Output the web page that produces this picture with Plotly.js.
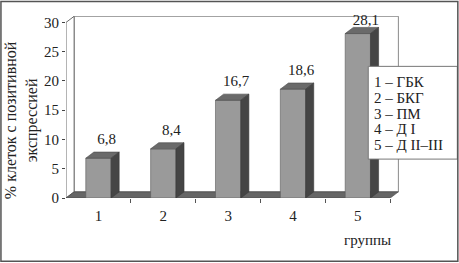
<!DOCTYPE html>
<html>
<head>
<meta charset="utf-8">
<script src="https://cdn.plot.ly/plotly-3.0.1.min.js"></script>
<style>html,body{margin:0;padding:0;background:#fff;}#chart{width:459px;height:263px;}</style>
</head>
<body>
<div id="chart"></div>
<script>
// ---- data ----
const groups = [1, 2, 3, 4, 5];
const values = [6.8, 8.4, 16.7, 18.6, 28.1];
const legendLines = ["1 – ГБК", "2 – БКГ", "3 – ПМ", "4 – Д I", "5 – Д II–III"];
const yTitle = "% клеток с позитивной<br>экспрессией";
const xTitle = "группы";
const yTicks = [0, 5, 10, 15, 20, 25, 30];

// ---- geometry (style) ----
const W = 459, H = 263;
const L = 66, T = 15.5, B = 65;
const xRange = [0.5, 5.65], yRange = [0, 31.1];
const pxPerX = 64.8;
const plotW = (xRange[1] - xRange[0]) * pxPerX;
const R = W - L - plotW;
const plotH = H - T - B;
const barW = 0.39, dx = 0.125, dy = 1.05;
const font = "Liberation Serif";
const txt = "#222";

const px2paperX = p => (p - L) / plotW;
const py2paperY = p => (H - B - p) / plotH;

const traces = [];
// front faces
traces.push({
  type: "bar", x: groups, y: values, width: barW,
  marker: {color: "#9a9a9a", line: {color: "#5a5a5a", width: 0.6}},
  hoverinfo: "skip", showlegend: false
});
// top and side faces
groups.forEach((c, i) => {
  const v = values[i];
  const x0 = c - barW / 2, x1 = c + barW / 2;
  traces.push({
    type: "scatter", mode: "lines", fill: "toself", fillcolor: "#6a6a6a",
    x: [x0, x1, x1 + dx, x0 + dx, x0], y: [v, v, v + dy, v + dy, v],
    line: {color: "#4a4a4a", width: 0.6}, hoverinfo: "skip", showlegend: false
  });
  traces.push({
    type: "scatter", mode: "lines", fill: "toself", fillcolor: "#454545",
    x: [x1, x1 + dx, x1 + dx, x1, x1], y: [0, dy, v + dy, v, 0],
    line: {color: "#3a3a3a", width: 0.6}, hoverinfo: "skip", showlegend: false
  });
});
// value labels
traces.push({
  type: "scatter", mode: "text",
  x: groups.map(c => c + dx),
  y: values.map(v => Math.min(v + 3.07, 30.17)),
  text: values.map(v => v.toFixed(1).replace(".", ",")),
  textposition: "middle center",
  textfont: {family: font, size: 15, color: txt},
  hoverinfo: "skip", showlegend: false, cliponaxis: false
});

const x0w = xRange[0], xb0 = xRange[0] + dx, xb1 = 5.5 + dx;
const shapes = [
  // back wall
  {type: "rect", layer: "below", xref: "x", yref: "y", x0: xb0, x1: xb1, y0: dy, y1: 30 + dy,
   fillcolor: "#fff", line: {color: "#8a8a8a", width: 1}},
  // left wall
  {type: "path", layer: "below", xref: "x", yref: "y",
   path: `M${x0w},0 L${x0w},30 L${xb0},${30 + dy} L${xb0},${dy} Z`,
   fillcolor: "#fff", line: {color: "#6a6a6a", width: 1}},
  // floor
  {type: "path", layer: "below", xref: "x", yref: "y",
   path: `M${x0w},0 L5.5,0 L${xb1},${dy} L${xb0},${dy} Z`,
   fillcolor: "#666", line: {color: "#444", width: 0.6}},
  // legend box
  {type: "rect", layer: "above", xref: "paper", yref: "paper",
   x0: px2paperX(368), x1: px2paperX(457), y0: py2paperY(159), y1: py2paperY(66),
   fillcolor: "#fff", line: {color: "#777", width: 1}},
  // outer border
  {type: "rect", layer: "above", xref: "paper", yref: "paper",
   x0: px2paperX(1), x1: px2paperX(457.5), y0: py2paperY(261.5), y1: py2paperY(1),
   fillcolor: "rgba(0,0,0,0)", line: {color: "#555", width: 1.5}}
];

const annotations = legendLines.map((t, i) => ({
  xref: "paper", yref: "paper", x: px2paperX(372), y: py2paperY(81.7 + i * 15.85),
  xanchor: "left", yanchor: "middle", showarrow: false, text: t,
  font: {family: font, size: 15, color: txt}
}));
annotations.push({
  xref: "paper", yref: "paper", x: px2paperX(367), y: py2paperY(240),
  xanchor: "center", yanchor: "middle", showarrow: false, text: xTitle,
  font: {family: font, size: 15, color: txt}
});
annotations.push({
  xref: "paper", yref: "paper", x: px2paperX(21), y: py2paperY(120),
  xanchor: "center", yanchor: "middle", showarrow: false, text: yTitle,
  textangle: -90, font: {family: font, size: 16, color: txt}
});

const layout = {
  width: W, height: H,
  margin: {l: L, r: R, t: T, b: B, pad: 0},
  paper_bgcolor: "#fff", plot_bgcolor: "rgba(0,0,0,0)",
  separators: ", ",
  showlegend: false,
  font: {family: font, size: 15, color: txt},
  xaxis: {
    range: xRange, tickmode: "array", tickvals: groups, ticktext: groups.map(String),
    ticks: "", showgrid: false, zeroline: false, showline: false,
    ticklabelstandoff: 7,
    tickfont: {family: font, size: 15, color: txt},
    minor: {tickmode: "array", tickvals: [1.5, 2.5, 3.5, 4.5, 5.5], ticks: "outside", ticklen: 4, tickcolor: "#555", showgrid: false}
  },
  yaxis: {
    range: yRange, tickmode: "array", tickvals: yTicks, ticktext: yTicks.map(String),
    ticks: "outside", ticklen: 3, tickcolor: "#444",
    showgrid: false, zeroline: false, showline: false,
    tickfont: {family: font, size: 15, color: txt}
  },
  shapes: shapes,
  annotations: annotations
};

Plotly.newPlot("chart", traces, layout, {staticPlot: true, displayModeBar: false});
</script>
</body>
</html>
